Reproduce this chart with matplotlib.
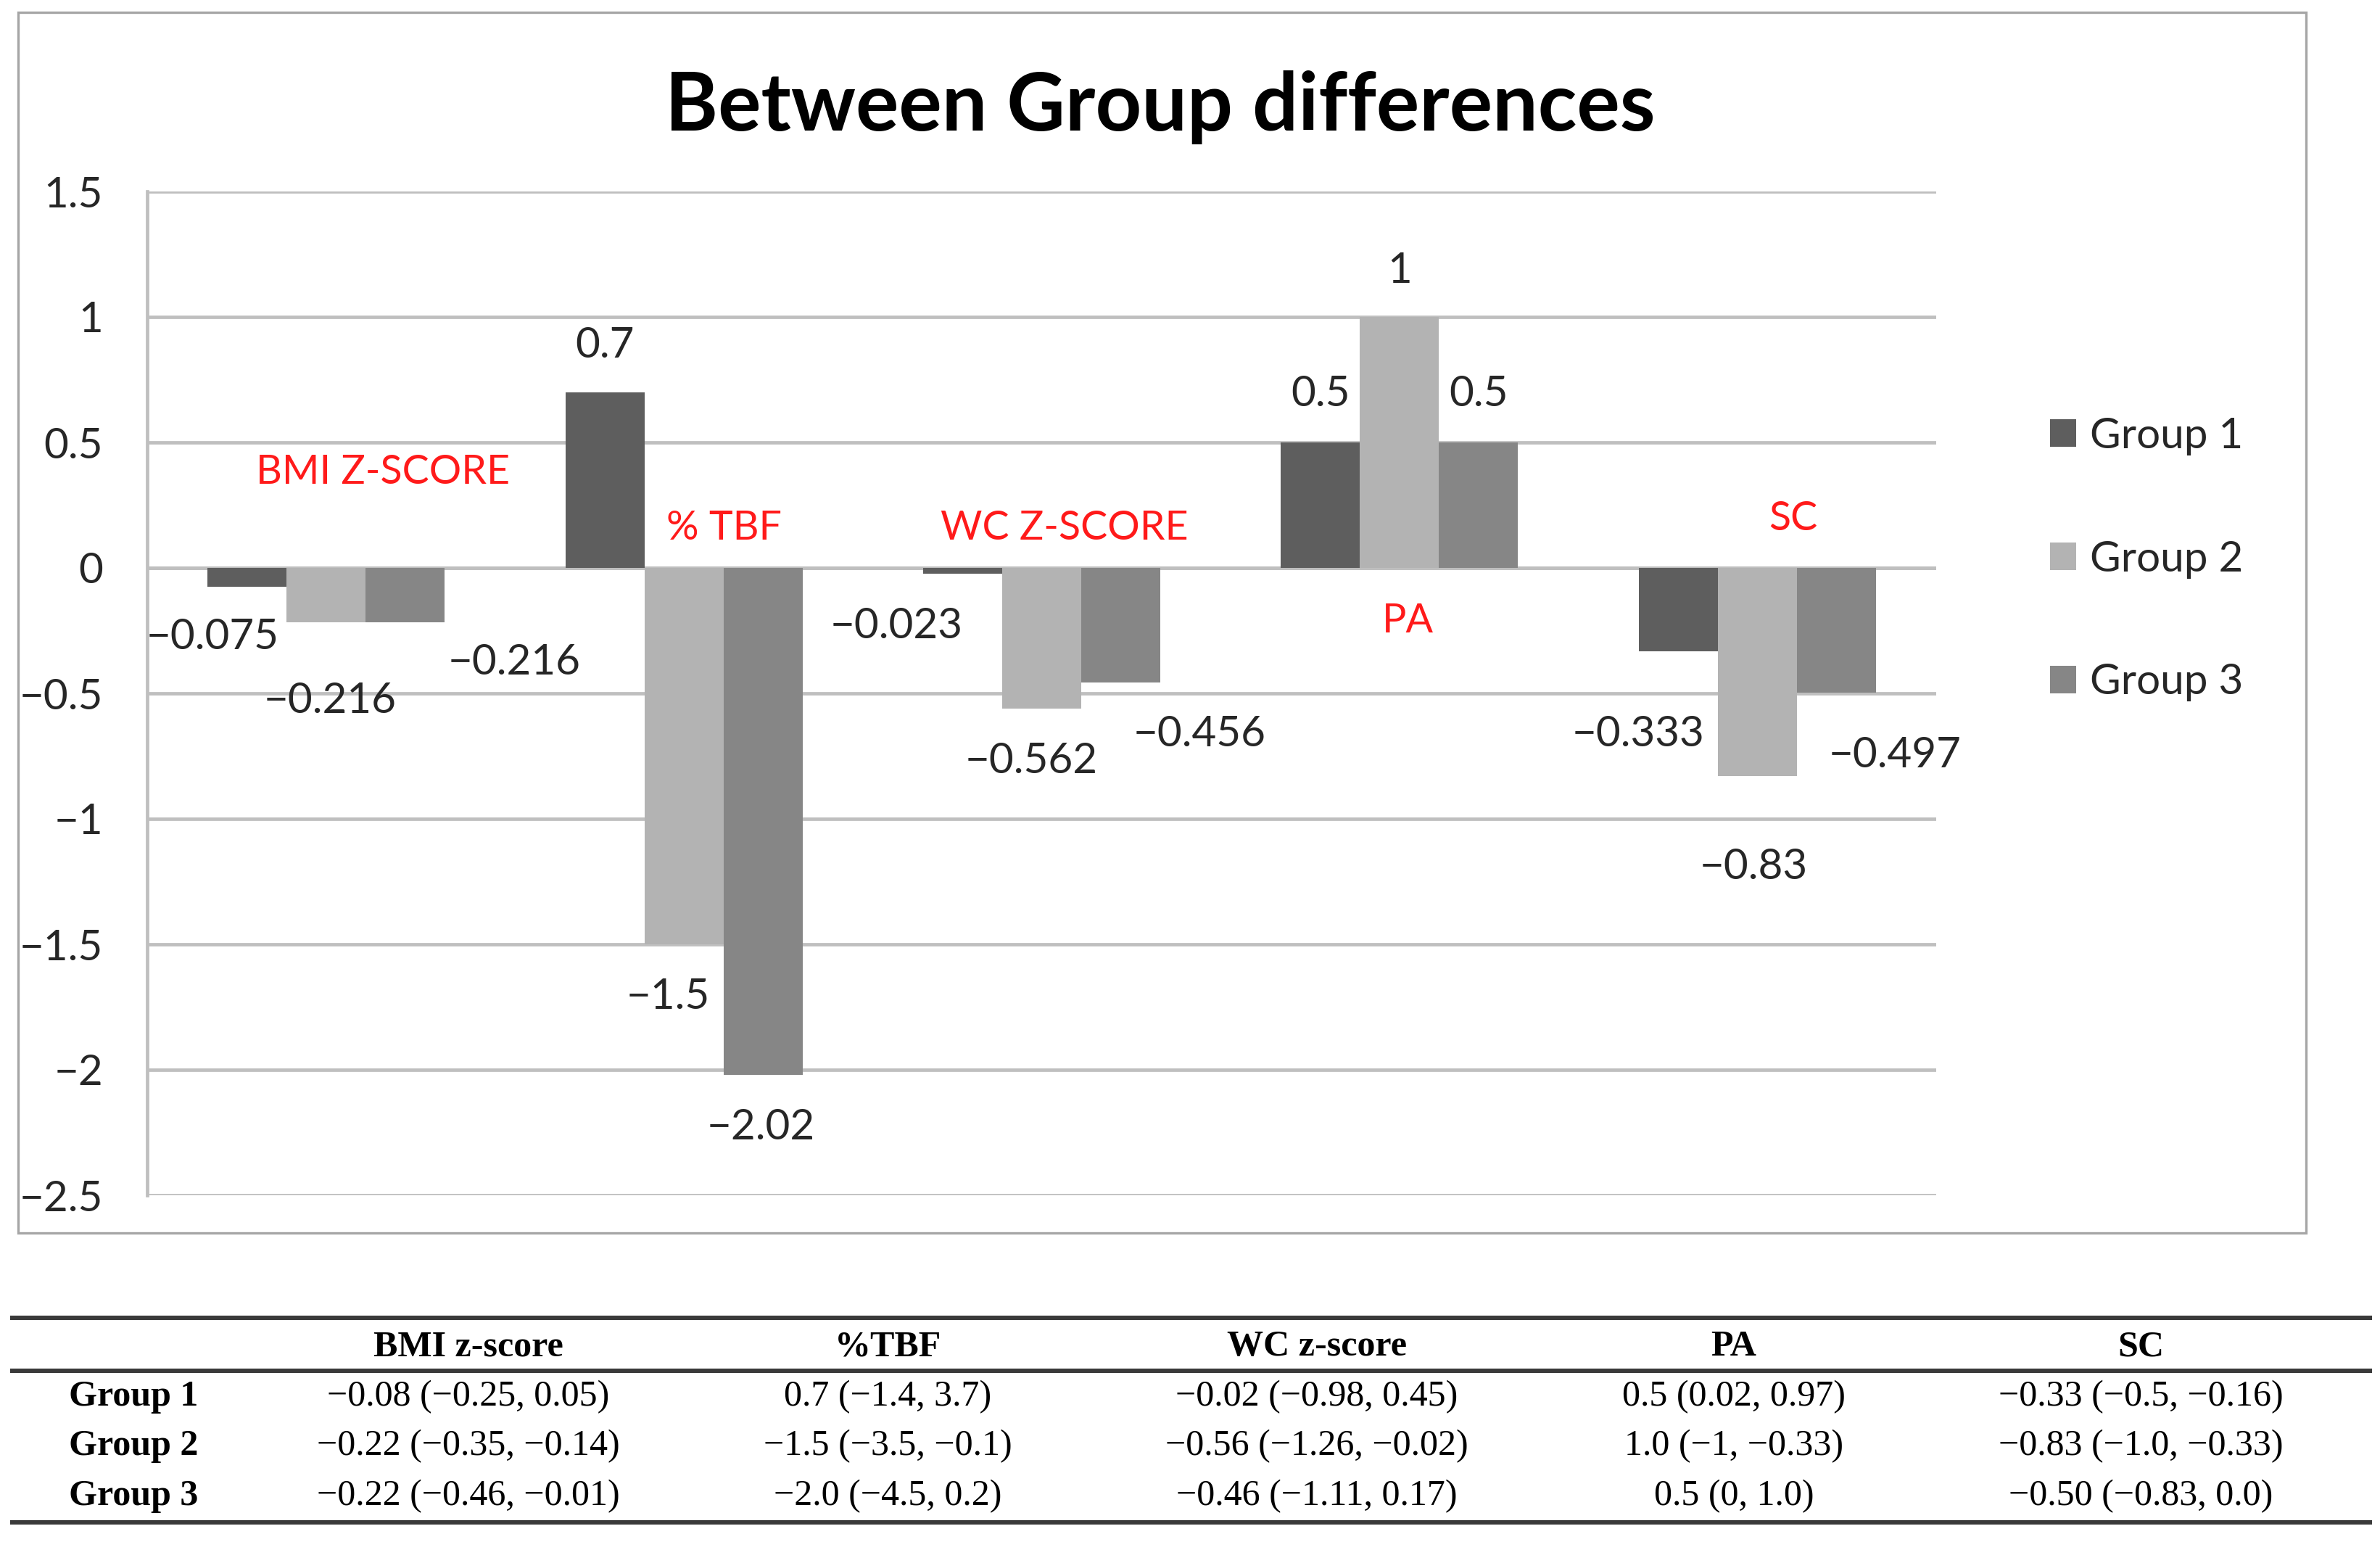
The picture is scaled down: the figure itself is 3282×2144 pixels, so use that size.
import matplotlib
matplotlib.use("Agg")
import matplotlib.pyplot as plt
from matplotlib.lines import Line2D
from matplotlib.patches import Rectangle
import numpy as np

# --- datos ---
categorias = ["BMI Z-SCORE", "% TBF", "WC Z-SCORE", "PA", "SC"]
grupos = ["Group 1", "Group 2", "Group 3"]
group1 = [-0.075, 0.7, -0.023, 0.5, -0.333]
group2 = [-0.216, -1.5, -0.562, 1, -0.83]
group3 = [-0.216, -2.02, -0.456, 0.5, -0.497]

# tabla inferior
cabecera = ["BMI z-score", "%TBF", "WC z-score", "PA", "SC"]
tabla_g1 = ["\u22120.08 (\u22120.25, 0.05)", "0.7 (\u22121.4, 3.7)", "\u22120.02 (\u22120.98, 0.45)",
            "0.5 (0.02, 0.97)", "\u22120.33 (\u22120.5, \u22120.16)"]
tabla_g2 = ["\u22120.22 (\u22120.35, \u22120.14)", "\u22121.5 (\u22123.5, \u22120.1)", "\u22120.56 (\u22121.26, \u22120.02)",
            "1.0 (\u22121, \u22120.33)", "\u22120.83 (\u22121.0, \u22120.33)"]
tabla_g3 = ["\u22120.22 (\u22120.46, \u22120.01)", "\u22122.0 (\u22124.5, 0.2)", "\u22120.46 (\u22121.11, 0.17)",
            "0.5 (0, 1.0)", "\u22120.50 (\u22120.83, 0.0)"]

colores = ["#5e5e5e", "#b3b3b3", "#868686"]
# desplazamiento de etiquetas (puntos) por grupo, como en el original
offs_g1 = [(-17, -25), (0, 23), (-33, -26), (0, 24), (-20, -41)]
offs_g2 = [(2, -39), (-8, -26), (-5, -26), (0, 23), (-2, -45)]
offs_g3 = [(54, -20), (-1, -26), (39, -26), (0, 24), (29, -31)]
# posicion de los nombres de categoria (datos)
pos_cat = [(0.158, 0.38), (1.113, 0.158), (2.064, 0.158), (3.023, -0.212), (4.101, 0.194)]

fuente = ["Lato", "DejaVu Sans"]
plt.rcParams["font.family"] = fuente


def fmt(v):
    s = ("%g" % v)
    return s.replace("-", "\u2212")


W, H = 3282, 2144
fig = plt.figure(figsize=(W / 200, H / 200), dpi=200)
ax = fig.add_axes([203 / W, 1 - 1648 / H, (2670 - 203) / W, (1648 - 264) / H])

x = np.arange(len(categorias))
w = 0.221
series = [group1, group2, group3]
offsets = [offs_g1, offs_g2, offs_g3]
for i, vals in enumerate(series):
    xs = x + (i - 1) * w
    ax.bar(xs, vals, width=w, color=colores[i], label=grupos[i], zorder=3)
    for xi, v, (dx, dy) in zip(xs, vals, offsets[i]):
        ax.annotate(fmt(v), (xi, v), xytext=(dx, dy), textcoords="offset points",
                    ha="center", va="center", fontsize=21, color="#262626", zorder=5)

for nombre, (cx, cy) in zip(categorias, pos_cat):
    ax.text(cx, cy, nombre, ha="center", va="center", fontsize=20, color="#ff1a1a", zorder=5)

ax.set_xlim(-0.5, len(categorias) - 0.5)
ax.set_ylim(-2.5, 1.5)
ticks = np.arange(-2.5, 1.51, 0.5)
ax.set_yticks(ticks)
ax.set_yticklabels([fmt(round(t, 1)) for t in ticks])
ax.set_xticks([])
ax.tick_params(axis="y", length=0, pad=22, labelsize=21, labelcolor="#262626")
ax.yaxis.grid(True, color="#bfbfbf", linewidth=1.7, zorder=0)
for s in ["top", "right", "bottom"]:
    ax.spines[s].set_visible(False)
ax.spines["left"].set_color("#bfbfbf")
ax.spines["left"].set_linewidth(1.7)
ax.axhline(0, color="#bfbfbf", linewidth=1.7, zorder=2)

fig.text(1600 / W, 1 - 148 / H, "Between Group differences", ha="center", va="center",
         fontsize=40, fontweight="bold", color="black")

ax.legend(loc="center left", bbox_to_anchor=(2827 / W, 1 - 771 / H), bbox_transform=fig.transFigure,
          frameon=False, fontsize=21, handlelength=0.62, handleheight=0.62, handletextpad=0.33,
          labelspacing=2.0, borderpad=0, borderaxespad=0, labelcolor="#262626")

# marco del grafico
fig.patches.append(Rectangle((25 / W, 1 - 1700 / H), (3180 - 25) / W, (1700 - 17) / H,
                             transform=fig.transFigure, fill=False, edgecolor="#a6a6a6", linewidth=1.2))

# --- tabla ---
serif = ["Liberation Serif", "DejaVu Serif"]
for yl in [1817, 1890, 2099]:
    fig.add_artist(Line2D([17 / W, 3268 / W], [1 - yl / H, 1 - yl / H], transform=fig.transFigure,
                          color="#3a3a3a", linewidth=2.2))
cols_x = [646, 1224, 1816, 2391, 2952]
for cx, txt in zip(cols_x, cabecera):
    fig.text(cx / W, 1 - 1857 / H, txt, ha="center", va="center", fontsize=18,
             fontweight="bold", family=serif)
filas_y = [1926, 1994, 2063]
for fy, nombre, fila in zip(filas_y, grupos, [tabla_g1, tabla_g2, tabla_g3]):
    fig.text(184 / W, 1 - fy / H, nombre, ha="center", va="center", fontsize=18,
             fontweight="bold", family=serif)
    for cx, txt in zip(cols_x, fila):
        fig.text(cx / W, 1 - fy / H, txt, ha="center", va="center", fontsize=18, family=serif)

fig.savefig("out.png", dpi=200, facecolor="white")
